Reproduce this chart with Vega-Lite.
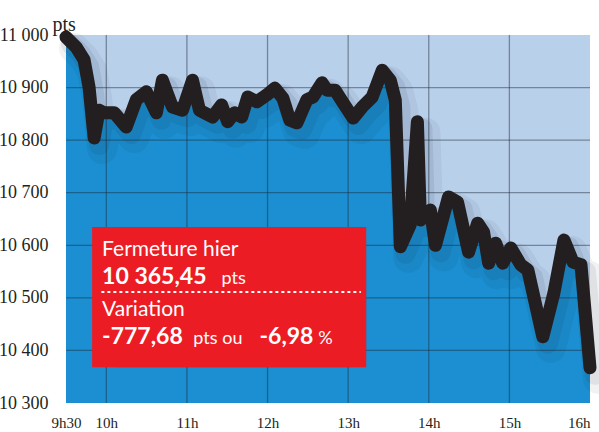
{
  "$schema": "https://vega.github.io/schema/vega-lite/v6.json",
  "width": 524,
  "height": 368,
  "autosize": {"type": "none"},
  "padding": {"left": 66, "top": 35, "right": 9, "bottom": 29},
  "background": "white",
  "config": {"view": {"fill": "#b9d0eb", "stroke": null}},
  "datasets": {
    "cac": [
      {"hour": 9.5, "points": 10996}, {"hour": 9.625, "points": 10977}, {"hour": 9.724, "points": 10953},
      {"hour": 9.786, "points": 10901}, {"hour": 9.849, "points": 10804}, {"hour": 9.911, "points": 10857},
      {"hour": 9.973, "points": 10852}, {"hour": 10.098, "points": 10852}, {"hour": 10.247, "points": 10825},
      {"hour": 10.372, "points": 10877}, {"hour": 10.496, "points": 10892}, {"hour": 10.621, "points": 10852},
      {"hour": 10.696, "points": 10914}, {"hour": 10.82, "points": 10863}, {"hour": 10.945, "points": 10857},
      {"hour": 11.069, "points": 10914}, {"hour": 11.156, "points": 10857}, {"hour": 11.318, "points": 10844},
      {"hour": 11.43, "points": 10867}, {"hour": 11.505, "points": 10835}, {"hour": 11.592, "points": 10852},
      {"hour": 11.679, "points": 10844}, {"hour": 11.754, "points": 10882}, {"hour": 11.866, "points": 10873},
      {"hour": 11.99, "points": 10886}, {"hour": 12.09, "points": 10899}, {"hour": 12.19, "points": 10880},
      {"hour": 12.277, "points": 10838}, {"hour": 12.364, "points": 10833}, {"hour": 12.489, "points": 10877},
      {"hour": 12.563, "points": 10882}, {"hour": 12.676, "points": 10909}, {"hour": 12.738, "points": 10895},
      {"hour": 12.838, "points": 10895}, {"hour": 12.937, "points": 10871}, {"hour": 13.062, "points": 10842},
      {"hour": 13.174, "points": 10863}, {"hour": 13.298, "points": 10882}, {"hour": 13.423, "points": 10933},
      {"hour": 13.522, "points": 10914}, {"hour": 13.585, "points": 10876}, {"hour": 13.647, "points": 10597},
      {"hour": 13.77, "points": 10639}, {"hour": 13.859, "points": 10835}, {"hour": 13.896, "points": 10648},
      {"hour": 14.02, "points": 10667}, {"hour": 14.083, "points": 10600}, {"hour": 14.245, "points": 10692},
      {"hour": 14.357, "points": 10682}, {"hour": 14.494, "points": 10587}, {"hour": 14.606, "points": 10642},
      {"hour": 14.68, "points": 10625}, {"hour": 14.743, "points": 10566}, {"hour": 14.83, "points": 10604},
      {"hour": 14.917, "points": 10566}, {"hour": 15.017, "points": 10595}, {"hour": 15.141, "points": 10563},
      {"hour": 15.229, "points": 10553}, {"hour": 15.415, "points": 10426}, {"hour": 15.552, "points": 10509},
      {"hour": 15.677, "points": 10610}, {"hour": 15.789, "points": 10568}, {"hour": 15.888, "points": 10563},
      {"hour": 16.0, "points": 10367}
    ],
    "hgrid": [{"points": 10400}, {"points": 10500}, {"points": 10600}, {"points": 10700}, {"points": 10800}, {"points": 10900}],
    "vgrid": [{"hour": 10}, {"hour": 11}, {"hour": 12}, {"hour": 13}, {"hour": 14}, {"hour": 15}],
    "box": [{"x1": 9.824, "x2": 13.224, "y1": 10635, "y2": 10368}],
    "dots": [{"x1": 9.948, "x2": 13.149, "y": 10511}],
    "labels": [
      {"hour": 9.948, "points": 10579, "text": "Fermeture hier"},
      {"hour": 9.948, "points": 10465, "text": "Variation"}
    ],
    "bignums": [
      {"hour": 9.948, "points": 10527, "text": "10 365,45"},
      {"hour": 9.948, "points": 10412, "text": "-777,68"},
      {"hour": 11.9, "points": 10412, "text": "-6,98"}
    ],
    "units": [
      {"hour": 11.43, "points": 10527, "text": "pts"},
      {"hour": 11.08, "points": 10412, "text": "pts ou"},
      {"hour": 12.63, "points": 10412, "text": "%"}
    ]
  },
  "layer": [
    {
      "data": {"name": "cac"},
      "mark": {"type": "area", "color": "#1b8fd1"},
      "encoding": {
        "x": {
          "field": "hour", "type": "quantitative",
          "scale": {"domain": [9.5, 16], "nice": false, "zero": false},
          "axis": {
            "values": [9.5, 10, 11, 12, 13, 14, 15, 16],
            "labelExpr": "datum.value == 9.5 ? '9h30' : datum.value + 'h'",
            "title": null, "domain": false, "ticks": false, "grid": false,
            "labelFont": "Liberation Sans Narrow", "labelFontSize": 15, "labelColor": "#231f20",
            "labelPadding": 12, "labelFlush": false, "labelOverlap": false,
            "labelAlign": {"condition": {"test": "datum.value == 16", "value": "right"}, "value": "center"}
          }
        },
        "y": {
          "field": "points", "type": "quantitative",
          "scale": {"domain": [10300, 11000], "nice": false, "zero": false},
          "axis": {
            "values": [10300, 10400, 10500, 10600, 10700, 10800, 10900, 11000],
            "labelExpr": "replace(format(datum.value, ','), ',', ' ')",
            "title": "pts", "titleAngle": 0, "titleAlign": "left", "titleBaseline": "alphabetic",
            "titleX": -14, "titleY": -5, "titleFont": "Liberation Sans Narrow", "titleFontSize": 20,
            "titleFontWeight": "normal", "titleColor": "#231f20",
            "domain": false, "ticks": false, "grid": false,
            "labelFont": "Liberation Sans Narrow", "labelFontSize": 18, "labelColor": "#231f20",
            "labelPadding": 18, "labelOverlap": false
          }
        },
        "y2": {"datum": 10300}
      }
    },
    {
      "data": {"name": "hgrid"},
      "mark": {"type": "rule", "color": "#1c2a3a", "opacity": 0.45, "strokeWidth": 1.3},
      "encoding": {"y": {"field": "points", "type": "quantitative"}}
    },
    {
      "data": {"name": "vgrid"},
      "mark": {"type": "rule", "color": "#1c2a3a", "opacity": 0.45, "strokeWidth": 1.3},
      "encoding": {"x": {"field": "hour", "type": "quantitative"}}
    },
    {
      "data": {"name": "box"},
      "mark": {"type": "rect", "color": "#0a2a50", "opacity": 0.08, "cornerRadius": 16, "xOffset": 10, "yOffset": 14},
      "encoding": {
        "x": {"field": "x1", "type": "quantitative"}, "x2": {"field": "x2"},
        "y": {"field": "y1", "type": "quantitative"}, "y2": {"field": "y2"}
      }
    },
    {
      "data": {"name": "box"},
      "mark": {"type": "rect", "color": "#0a2a50", "opacity": 0.12, "cornerRadius": 8, "xOffset": 5, "yOffset": 8},
      "encoding": {
        "x": {"field": "x1", "type": "quantitative"}, "x2": {"field": "x2"},
        "y": {"field": "y1", "type": "quantitative"}, "y2": {"field": "y2"}
      }
    },
    {
      "data": {"name": "box"},
      "mark": {"type": "rect", "color": "#ec1c24"},
      "encoding": {
        "x": {"field": "x1", "type": "quantitative"}, "x2": {"field": "x2"},
        "y": {"field": "y1", "type": "quantitative"}, "y2": {"field": "y2"}
      }
    },
    {
      "data": {"name": "dots"},
      "mark": {"type": "rule", "color": "white", "strokeWidth": 2, "strokeDash": [1.5, 4.5], "strokeCap": "round"},
      "encoding": {
        "x": {"field": "x1", "type": "quantitative"}, "x2": {"field": "x2"},
        "y": {"field": "y", "type": "quantitative"}
      }
    },
    {
      "data": {"name": "labels"},
      "mark": {"type": "text", "color": "white", "font": "Lato", "fontSize": 21, "align": "left", "baseline": "alphabetic"},
      "encoding": {
        "x": {"field": "hour", "type": "quantitative"}, "y": {"field": "points", "type": "quantitative"},
        "text": {"field": "text"}
      }
    },
    {
      "data": {"name": "bignums"},
      "mark": {"type": "text", "color": "white", "font": "Lato", "fontSize": 23, "fontWeight": "bold", "align": "left", "baseline": "alphabetic"},
      "encoding": {
        "x": {"field": "hour", "type": "quantitative"}, "y": {"field": "points", "type": "quantitative"},
        "text": {"field": "text"}
      }
    },
    {
      "data": {"name": "units"},
      "mark": {"type": "text", "color": "white", "font": "Lato", "fontSize": 18, "align": "left", "baseline": "alphabetic"},
      "encoding": {
        "x": {"field": "hour", "type": "quantitative"}, "y": {"field": "points", "type": "quantitative"},
        "text": {"field": "text"}
      }
    },
    {
      "data": {"name": "cac"},
      "mark": {"type": "line", "color": "#0a1a30", "opacity": 0.06, "strokeWidth": 30, "strokeJoin": "round", "strokeCap": "round", "xOffset": 8, "yOffset": 11, "clip": false},
      "encoding": {
        "x": {"field": "hour", "type": "quantitative"}, "y": {"field": "points", "type": "quantitative"}
      }
    },
    {
      "data": {"name": "cac"},
      "mark": {"type": "line", "color": "#0a1a30", "opacity": 0.08, "strokeWidth": 20, "strokeJoin": "round", "strokeCap": "round", "xOffset": 5, "yOffset": 7, "clip": false},
      "encoding": {
        "x": {"field": "hour", "type": "quantitative"}, "y": {"field": "points", "type": "quantitative"}
      }
    },
    {
      "data": {"name": "cac"},
      "mark": {"type": "line", "color": "#231f20", "strokeWidth": 13, "strokeJoin": "round", "strokeCap": "round", "clip": false},
      "encoding": {
        "x": {"field": "hour", "type": "quantitative"}, "y": {"field": "points", "type": "quantitative"}
      }
    }
  ]
}
